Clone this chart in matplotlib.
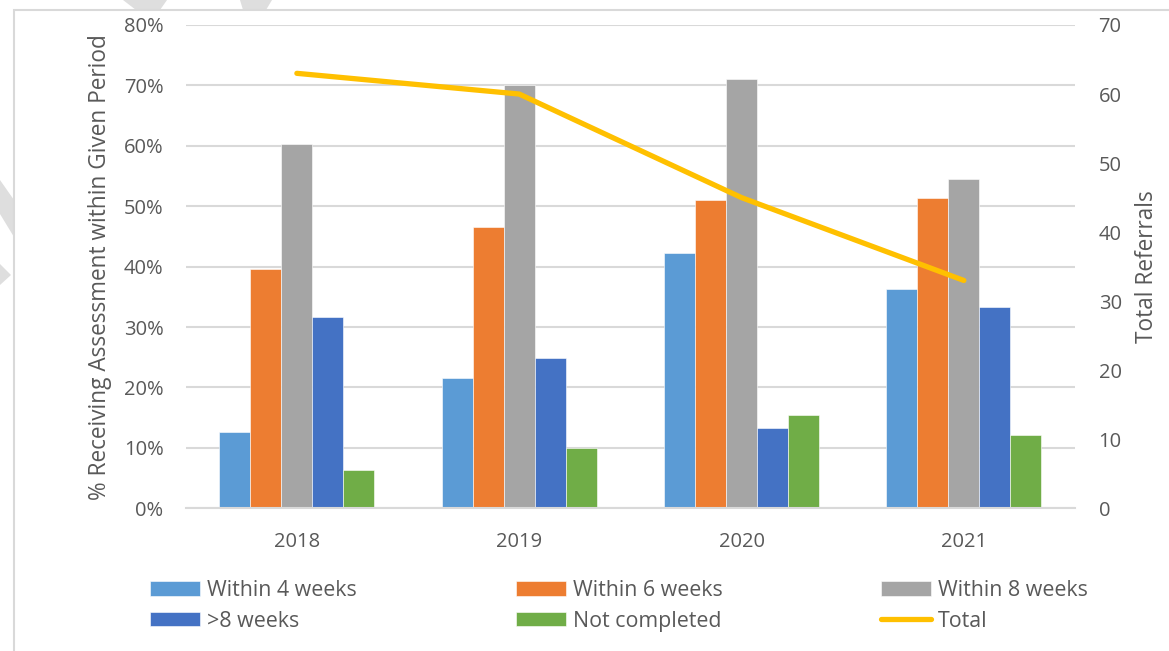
import numpy as np
import matplotlib.pyplot as plt
from matplotlib.patches import Rectangle, Polygon
from matplotlib.ticker import PercentFormatter

plt.rcParams['font.family'] = ['Open Sans', 'DejaVu Sans']

years = ['2018', '2019', '2020', '2021']
within_4 = [0.126, 0.216, 0.422, 0.363]
within_6 = [0.396, 0.466, 0.510, 0.514]
within_8 = [0.603, 0.700, 0.710, 0.545]
over_8 = [0.317, 0.249, 0.133, 0.333]
not_completed = [0.063, 0.099, 0.155, 0.121]
total_referrals = [63, 60, 45, 33]

series = [
    ('Within 4 weeks', within_4, '#5B9BD5'),
    ('Within 6 weeks', within_6, '#ED7D31'),
    ('Within 8 weeks', within_8, '#A5A5A5'),
    ('>8 weeks', over_8, '#4472C4'),
    ('Not completed', not_completed, '#70AD47'),
]

text_col = '#595959'
grid_col = '#D9D9D9'
W, H = 1169, 651

fig = plt.figure(figsize=(W / 100, H / 100), dpi=100)

# faint background marks peeking out around the chart frame
for pts in [[(123, 0), (167, 0), (160, 10), (136, 10)],
            [(240, 0), (272, 0), (266, 10), (243, 10)],
            [(0, 180), (14, 200), (14, 237), (0, 214)],
            [(0, 264), (11, 275), (0, 285)]]:
    fig.add_artist(Polygon([(x / W, 1 - y / H) for x, y in pts], closed=True,
                           transform=fig.transFigure, facecolor='#DEDEDE',
                           edgecolor='none', zorder=-3))
fig.add_artist(Rectangle((14 / W, -0.1), 1.2, (H - 10) / H + 0.1,
                         transform=fig.transFigure, facecolor='white',
                         edgecolor=grid_col, linewidth=1.5, zorder=-2))

ax = fig.add_axes([185.7 / W, 1 - 508.3 / H, (1075 - 185.7) / W, (508.3 - 25) / H])
ax.patch.set_alpha(0)
x = np.arange(len(years))
w = 0.1394
handles = {}
for i, (name, vals, col) in enumerate(series):
    handles[name] = ax.bar(x + (i - 2) * w, vals, w, color=col, label=name,
                           edgecolor='white', linewidth=0.4)

ax.set_xlim(-0.5, len(years) - 0.5)
ax.set_ylim(0, 0.8)
ax.set_yticks(np.arange(0, 0.81, 0.1))
ax.yaxis.set_major_formatter(PercentFormatter(1.0, decimals=0))
ax.set_xticks(x)
ax.set_xticklabels(years)
ax.grid(axis='y', color=grid_col, linewidth=1.5)
ax.set_axisbelow(True)
for s in ['top', 'right', 'left']:
    ax.spines[s].set_visible(False)
ax.spines['bottom'].set_color(grid_col)
ax.spines['bottom'].set_linewidth(1.5)
ax.tick_params(length=0, labelsize=14.5, colors=text_col)
ax.tick_params(axis='y', pad=16)
ax.tick_params(axis='x', pad=17)
ax.set_ylabel('% Receiving Assessment within Given Period', fontsize=16.3, color=text_col)
ax.yaxis.set_label_coords(-0.083, 0.5)

ax2 = ax.twinx()
line, = ax2.plot(x, total_referrals, color='#FFC000', linewidth=3.8,
                 solid_capstyle='round', solid_joinstyle='round', label='Total')
ax2.set_ylim(0, 70)
ax2.set_yticks(np.arange(0, 71, 10))
for s in ax2.spines.values():
    s.set_visible(False)
ax2.tick_params(length=0, labelsize=14.5, colors=text_col, pad=17)
ax2.set_ylabel('Total Referrals', fontsize=16.3, color=text_col)
ax2.yaxis.set_label_coords(1.068, 0.5)

# matplotlib fills legend columns first, so interleave to read across rows
order = ['Within 4 weeks', '>8 weeks', 'Within 6 weeks', 'Not completed', 'Within 8 weeks']
hs = [handles[n] for n in order] + [line]
labels = order + ['Total']
fig.legend(hs, labels, loc='upper left', bbox_to_anchor=(150 / W, 1 - 580 / H),
           ncol=3, frameon=False, fontsize=15.4, labelcolor=text_col,
           borderaxespad=0, borderpad=0, handlelength=2.34, handleheight=0.65,
           handletextpad=0.33, labelspacing=0.45, columnspacing=7.42)

fig.savefig('out.png', dpi=100)
